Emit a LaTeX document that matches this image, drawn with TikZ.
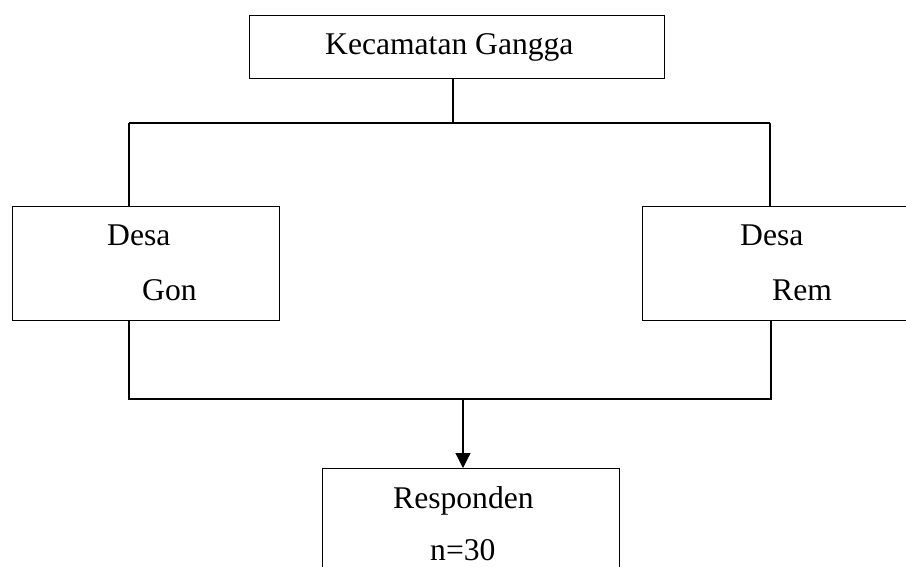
\documentclass[tikz,border=0pt]{standalone}
\usepackage{fontspec}
\setmainfont{Liberation Serif}
\usetikzlibrary{arrows.meta}
\tikzset{
  kotak/.style={draw, line width=1.2pt, rectangle, inner sep=0pt, anchor=north west},
  teks/.style={anchor=base west, inner sep=0pt, font=\fontsize{31.6}{38}\selectfont},
  garis/.style={draw, line width=1.2pt}
}
\begin{document}
\begin{tikzpicture}[x=1pt,y=-1pt]
\useasboundingbox (0,0) rectangle (906,567);
\node[kotak, minimum width=415pt, minimum height=63pt] (kecBox) at (249,15) {};
\node[kotak, minimum width=267pt, minimum height=114pt] (gonBox) at (12,206) {};
\node[kotak, minimum width=272pt, minimum height=114pt] (remBox) at (642,206) {};
\node[kotak, minimum width=297pt, minimum height=120pt] (resBox) at (322,468) {};

\node[teks] (kec) at (325,55) {Kecamatan Gangga};
\node[teks] (desa1) at (107,245) {Desa};
\node[teks] (gon) at (142,300) {Gon};
\node[teks] (desa2) at (740,245) {Desa};
\node[teks] (rem) at (772,300) {Rem};
\node[teks] (resp) at (393,508) {Responden};
\node[teks] (jumlah) at (430,560) {n=30};

\coordinate (atasTengah) at (453,123);
\coordinate (atasKiri) at (129,123);
\coordinate (atasKanan) at (770,123);
\coordinate (bawahKiri) at (129,399);
\coordinate (bawahKanan) at (771,399);
\coordinate (bawahTengah) at (463,399);

\path[garis] (atasTengah |- kecBox.south) -- (atasTengah);
\path[garis] (atasKiri) -- (atasKanan);
\path[garis] (atasKiri) -- (atasKiri |- gonBox.north);
\path[garis] (atasKanan) -- (atasKanan |- remBox.north);
\path[garis] (bawahKiri |- gonBox.south) -- (bawahKiri) -- (bawahKanan) -- (bawahKanan |- remBox.south);
\path[garis,-{Triangle[length=15pt,width=15pt]}] (bawahTengah) -- (bawahTengah |- resBox.north);
\end{tikzpicture}
\end{document}
